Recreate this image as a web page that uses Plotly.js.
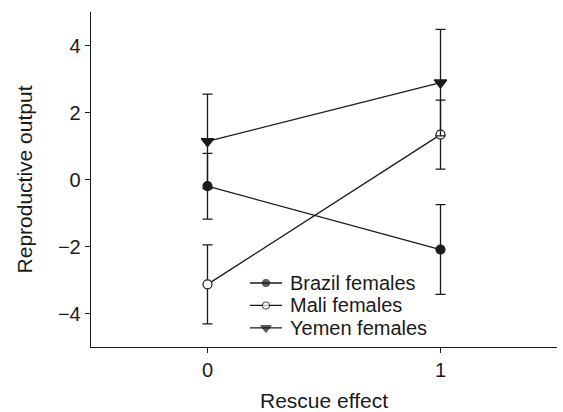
<!DOCTYPE html>
<html><head><meta charset="utf-8">
<script src="https://cdn.plot.ly/plotly-3.0.1.min.js"></script>
<style>html,body{margin:0;padding:0;background:#fff}</style>
</head><body>
<div id="chart" style="width:563px;height:412px"></div>
<script>
var xVals = [0, 1];
var brazil = [-0.2, -2.09];
var brazilErr = [0.98, 1.34];
var mali = [-3.13, 1.34];
var maliErr = [1.18, 1.03];
var yemen = [1.14, 2.89];
var yemenErr = [1.41, 1.59];
var seriesNames = ["Brazil females", "Mali females", "Yemen females"];
var symbols = ['circle', 'circle', 'triangle-down'];
var fills = ['#1a1a1a', '#ffffff', '#1a1a1a'];
var sizes = [9, 9, 11];

var ink = '#1a1a1a';
function tr(y, err, i) {
  return {
    x: xVals, y: y, name: seriesNames[i], type: 'scatter', mode: 'lines+markers',
    showlegend: false,
    line: {color: ink, width: 1.3},
    marker: {symbol: symbols[i], size: sizes[i], color: fills[i], line: {color: ink, width: 1.2}},
    error_y: {type: 'data', array: err, visible: true, color: ink, thickness: 1.3, width: 5},
    cliponaxis: false
  };
}
var data = [tr(brazil, brazilErr, 0), tr(mali, maliErr, 1), tr(yemen, yemenErr, 2)];

// Legend (drawn manually to match the compact row spacing of the original)
var legRowY = [0.191, 0.124, 0.057];
var legX0 = 0.341, legXm = 0.3755, legX1 = 0.41, legXt = 0.425;
data.push({
  x: [legXm, legXm, legXm], y: legRowY, xaxis: 'x2', yaxis: 'y2', type: 'scatter', mode: 'markers',
  showlegend: false, hoverinfo: 'skip', cliponaxis: false,
  marker: {symbol: symbols, size: [7, 7, 9], color: fills, line: {color: ink, width: 1.1}}
});
var shapes = [], annotations = [];
for (var i = 0; i < seriesNames.length; i++) {
  shapes.push({type: 'line', xref: 'paper', yref: 'paper', x0: legX0, x1: legX1, y0: legRowY[i], y1: legRowY[i],
               line: {color: ink, width: 1.3}, layer: 'below'});
  annotations.push({xref: 'paper', yref: 'paper', x: legXt, y: legRowY[i], xanchor: 'left', yanchor: 'middle',
                    text: seriesNames[i], showarrow: false, borderpad: 0,
                    font: {family: 'Liberation Sans, Arial, sans-serif', size: 20, color: ink}});
}

var fam = 'Liberation Sans, Arial, sans-serif';
var tickFont = {family: fam, size: 20, color: ink};
var titleFont = {family: fam, size: 21, color: ink};
var layout = {
  width: 563, height: 412,
  margin: {l: 91, r: 6, t: 12, b: 65},
  paper_bgcolor: '#fff', plot_bgcolor: '#fff',
  font: tickFont,
  showlegend: false,
  shapes: shapes, annotations: annotations,
  xaxis: {
    range: [-0.5, 1.5], tickvals: [0, 1], ticktext: ['0', '1'],
    showgrid: false, zeroline: false, showline: true, linecolor: ink, linewidth: 1.3,
    ticks: 'outside', ticklen: 5, tickcolor: ink, tickwidth: 1.3, tickfont: tickFont,
    title: {text: 'Rescue effect', standoff: 15, font: titleFont}
  },
  yaxis: {
    range: [-5, 5], tickvals: [-4, -2, 0, 2, 4], ticktext: ['\u22124', '\u22122', '0', '2', '4'],
    showgrid: false, zeroline: false, showline: true, linecolor: ink, linewidth: 1.3,
    ticks: 'outside', ticklen: 5, tickcolor: ink, tickwidth: 1.3, tickfont: tickFont,
    title: {text: 'Reproductive output', standoff: 19, font: titleFont}
  },
  xaxis2: {overlaying: 'x', range: [0, 1], visible: false, fixedrange: true},
  yaxis2: {overlaying: 'y', range: [0, 1], visible: false, fixedrange: true}
};
Plotly.newPlot('chart', data, layout, {displayModeBar: false, staticPlot: true});
</script>
</body></html>
